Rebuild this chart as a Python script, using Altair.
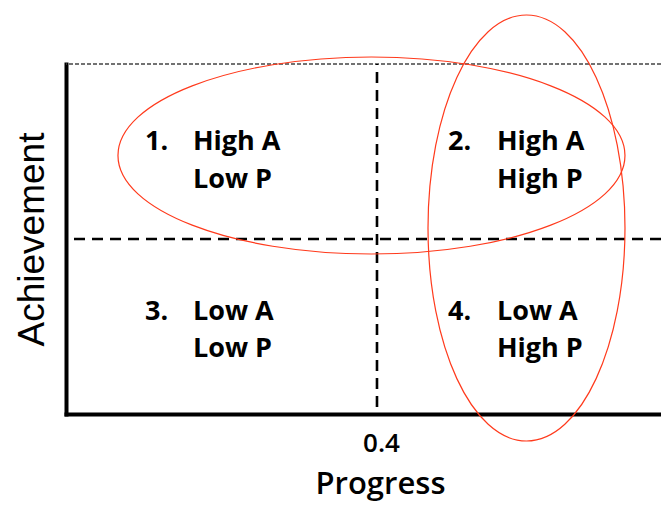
import altair as alt
import pandas as pd

# ---------------- data ----------------
x_threshold = [0.4]          # Progress cut-off (dashed vertical)
y_threshold = [0.5]          # Achievement cut-off (dashed horizontal)
x_tick_values = [0.4]
x_domain = [0, 0.7653]
y_domain = [0, 1]
quad_num = ["1.", "2.", "3.", "4."]
quad_a = ["High A", "High A", "Low A", "Low A"]
quad_p = ["Low P", "High P", "Low P", "High P"]
quad_high_p = [False, True, False, True]
quad_high_a = [True, True, False, False]
ellipse_names = ["High achievement", "High progress"]

# ---------------- layout ----------------
num_x = {False: 0.1016, True: 0.4913}
txt_x = {False: 0.1633, True: 0.5543}
row_y = {True: 0.754, False: 0.269}
line_gap = 0.107

rows = []
for n, a, p, hp, ha in zip(quad_num, quad_a, quad_p, quad_high_p, quad_high_a):
    rows.append({"x": num_x[hp], "y": row_y[ha], "t": n})
    rows.append({"x": txt_x[hp], "y": row_y[ha], "t": a})
    rows.append({"x": txt_x[hp], "y": row_y[ha] - line_gap, "t": p})
labels = pd.DataFrame(rows)

K = 0.5523
def ellipse_path(a, b):
    return (f"M {-a} 0 C {-a} {-K*b} {-K*a} {-b} 0 {-b} "
            f"C {K*a} {-b} {a} {-K*b} {a} 0 "
            f"C {a} {K*b} {K*a} {b} 0 {b} "
            f"C {-K*a} {b} {-a} {K*b} {-a} 0 Z")

ell = pd.DataFrame({
    "name": ellipse_names,
    "x": [0.3929, 0.5923],
    "y": [0.7386, 0.5314],
})

FG = "Open Sans"
xs = alt.Scale(domain=x_domain, nice=False, zero=False)
ys = alt.Scale(domain=y_domain, nice=False, zero=False)

X = alt.X("x:Q", scale=xs,
          axis=alt.Axis(values=x_tick_values, format=".1f", ticks=False, tickSize=0,
                        grid=False, domainColor="black", domainWidth=4, domainCap="square",
                        labelFont=FG, labelFontSize=26, labelFontWeight=600,
                        labelColor="black",
                        labelBaseline="alphabetic", labelPadding=37, labelOffset=4,
                        title="Progress", titleFont=FG, titleFontSize=31,
                        titleFontWeight=600, titleColor="black",
                        titleBaseline="alphabetic", titleY=79, titleX=314))
Y = alt.Y("y:Q", scale=ys,
          axis=alt.Axis(labels=False, ticks=False, tickSize=0, grid=False,
                        domainColor="black", domainWidth=4, domainCap="square",
                        title="Achievement", titleFont="Liberation Sans",
                        titleFontSize=37, titleFontWeight="normal", titleColor="black",
                        titlePadding=15))

base_df = pd.DataFrame({"x": [0.0], "y": [0.0]})
axes = alt.Chart(base_df).mark_point(opacity=0).encode(x=X, y=Y)

top_line = alt.Chart(pd.DataFrame({"y": [y_domain[1]]})).mark_rule(
    color="#444", strokeWidth=1.5, strokeDash=[4, 2]).encode(y=alt.Y("y:Q", scale=ys))

vline = alt.Chart(pd.DataFrame({"x": x_threshold})).mark_rule(
    color="black", strokeWidth=2.6, strokeDash=[11, 7], strokeDashOffset=10
).encode(x=alt.X("x:Q", scale=xs))

hline = alt.Chart(pd.DataFrame({"y": y_threshold})).mark_rule(
    color="black", strokeWidth=2.6, strokeDash=[11, 7]
).encode(y=alt.Y("y:Q", scale=ys))

text = alt.Chart(labels).mark_text(
    align="left", baseline="alphabetic", font=FG, fontSize=27,
    fontWeight="bold", color="black"
).encode(x=alt.X("x:Q", scale=xs), y=alt.Y("y:Q", scale=ys), text="t:N")

e1 = alt.Chart(ell.iloc[[0]]).mark_point(
    shape=ellipse_path(1, 0.3886), size=257049, filled=False,
    stroke="#ff3a1c", strokeWidth=1.2, opacity=1
).encode(x=alt.X("x:Q", scale=xs), y=alt.Y("y:Q", scale=ys))

e2 = alt.Chart(ell.iloc[[1]]).mark_point(
    shape=ellipse_path(0.4624, 1), size=181476, filled=False,
    stroke="#ff3a1c", strokeWidth=1.2, opacity=1
).encode(x=alt.X("x:Q", scale=xs), y=alt.Y("y:Q", scale=ys))

chart = alt.layer(axes, top_line, vline, hline, text, e1, e2).properties(
    width=595, height=350,
    autosize=alt.AutoSizeParams(type="none"),
    padding={"left": 58, "top": 56, "right": 0, "bottom": 88},
).configure_view(stroke=None)

chart.save("out.html", embed_options={"renderer": "svg", "actions": False})
